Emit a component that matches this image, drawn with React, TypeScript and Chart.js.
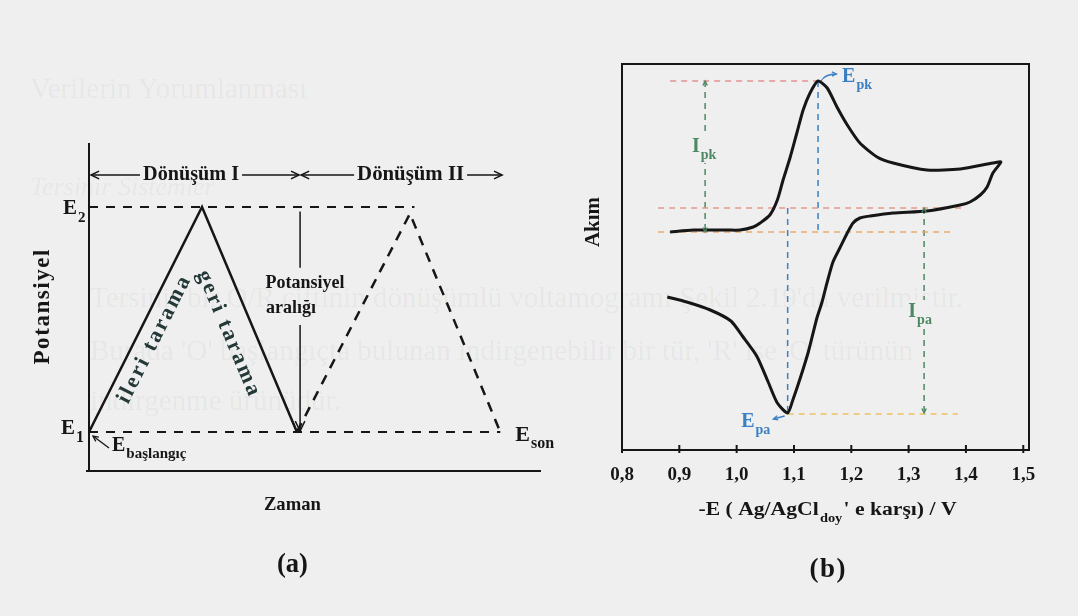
import React, { useEffect, useRef } from "react";
import { Chart, registerables } from "chart.js";

Chart.register(...registerables);

const SERIF = '"Liberation Serif", "Times New Roman", serif';
const INK = "#161616";
const PAPER = "#efefef";
const TEAL_INK = "#243838";
const BLUE = "#3b80c2";
const GREEN = "#4c8862";

// ---------- (a) potential–time waveform (E1 = 0, E2 = 1) ----------
const cycle1Time = [0, 2.5, 4.6];
const cycle1Potential = [0, 1, 0];
const cycle2Time = [4.6, 7.1, 9.1];
const cycle2Potential = [0, 0.97, 0];
const upperLimitTime = [0, 7.2];
const upperLimitPotential = [1, 1];
const lowerLimitTime = [0, 9.1];
const lowerLimitPotential = [0, 0];
const cycleBoundaryTime = [0, 4.67, 9.14];
const cycleLabels = ["Dönüşüm I", "Dönüşüm II"];

// ---------- (b) cyclic voltammogram: -E (V) vs current (arb. units) ----------
const cvPotential = [
  0.884, 0.924, 0.983, 1.006, 1.029, 1.041, 1.058, 1.071, 1.081, 1.093, 1.105, 1.116,
  1.128, 1.142, 1.158, 1.175, 1.193, 1.215, 1.245, 1.273, 1.332, 1.39, 1.447, 1.461,
  1.447, 1.437, 1.425, 1.407, 1.39, 1.332, 1.273, 1.233, 1.215, 1.203, 1.193, 1.18,
  1.168, 1.158, 1.149, 1.14, 1.125, 1.111, 1.098, 1.089, 1.071, 1.055, 1.035, 1.01,
  0.99, 0.954, 0.913, 0.879,
];
const cvCurrent = [
  0.0, 0.2, 0.2, 0.2, 0.5, 0.9, 1.7, 3.2, 5.2, 7.4, 9.9, 12.2,
  13.9, 15.1, 14.4, 12.5, 10.7, 8.9, 7.5, 6.9, 6.2, 6.3, 6.9, 7.0,
  5.9, 4.5, 3.7, 3.0, 2.7, 2.1, 1.9, 1.6, 1.4, 0.9, -0.1, -1.6,
  -3.0, -5.0, -7.0, -8.6, -12.0, -14.6, -16.8, -18.1, -17.1, -15.0, -12.4, -10.4,
  -8.9, -7.8, -7.0, -6.5,
];
const xTickValues = [0.8, 0.9, 1.0, 1.1, 1.2, 1.3, 1.4, 1.5];
const xTickLabels = ["0,8", "0,9", "1,0", "1,1", "1,2", "1,3", "1,4", "1,5"];

// peak positions and baselines used for the Ip / Ep construction lines
const cathodicPeakE = 1.142;
const cathodicPeakI = 15.1;
const cathodicBaseI = 0;
const anodicPeakE = 1.089;
const anodicPeakI = -18.1;
const anodicBaseI = 2.4;
const ipkMarkerE = 0.945;
const ipaMarkerE = 1.327;
const baselineStartE = 0.863;
const peakLevelStartE = 0.884;
const anodicBaseEndE = 1.395;
const cathodicBaseEndE = 1.378;
const anodicLevelEndE = 1.386;

const zip = (xs: number[], ys: number[]) => xs.map((x, i) => ({ x, y: ys[i] }));

function seg(ctx: CanvasRenderingContext2D, x1: number, y1: number, x2: number, y2: number) {
  ctx.beginPath();
  ctx.moveTo(x1, y1);
  ctx.lineTo(x2, y2);
  ctx.stroke();
}

function arrowHead(ctx: CanvasRenderingContext2D, x: number, y: number, angle: number, size: number) {
  ctx.beginPath();
  ctx.moveTo(x - size * Math.cos(angle - 0.45), y - size * Math.sin(angle - 0.45));
  ctx.lineTo(x, y);
  ctx.lineTo(x - size * Math.cos(angle + 0.45), y - size * Math.sin(angle + 0.45));
  ctx.stroke();
}

// text spread (or squeezed) to a given length, centred on (cx, cy), rotated by angle
function spacedText(
  ctx: CanvasRenderingContext2D,
  text: string,
  cx: number,
  cy: number,
  width: number,
  angle: number,
  font: string,
  color: string
) {
  ctx.save();
  ctx.translate(cx, cy);
  ctx.rotate(angle);
  ctx.font = font;
  ctx.fillStyle = color;
  ctx.textAlign = "left";
  ctx.textBaseline = "middle";
  const chars = Array.from(text);
  const widths = chars.map((c) => ctx.measureText(c).width);
  const natural = widths.reduce((s, w) => s + w, 0);
  let gap = chars.length > 1 ? (width - natural) / (chars.length - 1) : 0;
  if (gap < 0) {
    ctx.scale(width / natural, 1);
    gap = 0;
  }
  let x = gap === 0 ? -natural / 2 : -width / 2;
  chars.forEach((c, i) => {
    ctx.fillText(c, x, 0);
    x += widths[i] + gap;
  });
  ctx.restore();
}

function subText(
  ctx: CanvasRenderingContext2D,
  main: string,
  sub: string,
  x: number,
  y: number,
  size: number,
  subSize: number,
  color: string,
  align: "left" | "center" = "left"
) {
  ctx.save();
  ctx.textAlign = "left";
  ctx.textBaseline = "middle";
  ctx.fillStyle = color;
  const mainFont = `bold ${size}px ${SERIF}`;
  const subFont = `bold ${subSize}px ${SERIF}`;
  ctx.font = mainFont;
  const w1 = ctx.measureText(main).width;
  ctx.font = subFont;
  const w2 = ctx.measureText(sub).width;
  const x0 = align === "center" ? x - (w1 + w2 + 1) / 2 : x;
  ctx.font = mainFont;
  ctx.fillText(main, x0, y);
  ctx.font = subFont;
  ctx.fillText(sub, x0 + w1 + 1, y + size * 0.42);
  ctx.restore();
  return w1 + w2 + 1;
}

const waveformDecor = {
  id: "waveformDecor",
  afterDatasetsDraw(chart: any) {
    const { ctx, chartArea: a, scales } = chart;
    const X = (v: number) => scales.x.getPixelForValue(v);
    const Y = (v: number) => scales.y.getPixelForValue(v);
    ctx.save();
    ctx.strokeStyle = INK;
    ctx.fillStyle = INK;

    // axes
    ctx.lineWidth = 2;
    seg(ctx, a.left, a.top, a.left, a.bottom);
    seg(ctx, a.left - 3, a.bottom, a.right, a.bottom);

    // cycle spans along the top
    const rowY = Y(1.142);
    const [t0, t1, t2] = cycleBoundaryTime;
    const spans = [
      [X(t0) + 2, X(t1) - 1, 96, -4],
      [X(t1) + 1, X(t2), 107, 9],
    ];
    ctx.lineWidth = 1.5;
    spans.forEach(([s, e, w, shift], i) => {
      const cx = (s + e) / 2 + shift;
      spacedText(ctx, cycleLabels[i], cx, rowY, w, 0, `bold 21px ${SERIF}`, INK);
      seg(ctx, s, rowY, cx - w / 2 - 3, rowY);
      seg(ctx, cx + w / 2 + 3, rowY, e, rowY);
      arrowHead(ctx, s, rowY, Math.PI, 9);
      arrowHead(ctx, e, rowY, 0, 9);
    });

    // potential window arrow
    const vx = X(t1);
    seg(ctx, vx, Y(0.98), vx, Y(0.73));
    seg(ctx, vx, Y(0.476), vx, Y(0) - 1);
    arrowHead(ctx, vx, Y(0) - 1, Math.PI / 2, 11);
    spacedText(ctx, "Potansiyel", vx + 5, Y(0.662), 79, 0, `bold 18px ${SERIF}`, INK);
    spacedText(ctx, "aralığı", vx - 9, Y(0.551), 50, 0, `bold 18px ${SERIF}`, INK);

    // scan direction labels along the solid triangle
    const upAngle = Math.atan2(Y(1) - Y(0), X(2.5) - X(0));
    const downAngle = Math.atan2(Y(0) - Y(1), X(4.6) - X(2.5));
    spacedText(ctx, "ileri tarama", X(1.44), Y(0.409), 139, upAngle, `bold 22px ${SERIF}`, TEAL_INK);
    spacedText(ctx, "geri tarama", X(3.08), Y(0.44), 134, downAngle, `bold 22px ${SERIF}`, TEAL_INK);

    // potential labels
    subText(ctx, "E", "2", a.left - 26, Y(1) + 2, 21, 15, INK);
    subText(ctx, "E", "1", a.left - 28, Y(0) - 3, 21, 16, INK);
    ctx.lineWidth = 1.3;
    seg(ctx, X(0) + 20, Y(0) + 16, X(0) + 4, Y(0) + 4);
    arrowHead(ctx, X(0) + 4, Y(0) + 4, Math.atan2(-12, -16), 6);
    subText(ctx, "E", "başlangıç", X(0) + 23, Y(0) + 14, 20, 15, INK);
    subText(ctx, "E", "son", X(9.1) + 15, Y(0) + 3, 22, 16, INK);

    // axis titles and panel tag
    spacedText(ctx, "Potansiyel", a.left - 46, (a.top + a.bottom) / 2, 115, -Math.PI / 2, `bold 23px ${SERIF}`, INK);
    spacedText(ctx, "Zaman", X(4.5), a.bottom + 34, 57, 0, `bold 19px ${SERIF}`, INK);
    spacedText(ctx, "(a)", X(4.5), a.bottom + 94, 31, 0, `bold 27px ${SERIF}`, INK);
    ctx.restore();
  },
};

function labelWithGap(
  ctx: CanvasRenderingContext2D,
  main: string,
  sub: string,
  cx: number,
  cy: number,
  color: string
) {
  ctx.save();
  ctx.font = `bold 20px ${SERIF}`;
  const w1 = ctx.measureText(main).width;
  ctx.font = `bold 14px ${SERIF}`;
  const w2 = ctx.measureText(sub).width;
  ctx.fillStyle = PAPER;
  ctx.fillRect(cx - (w1 + w2) / 2 - 2, cy - 12, w1 + w2 + 5, 28);
  ctx.restore();
  subText(ctx, main, sub, cx, cy, 20, 14, color, "center");
}

const voltammogramDecor = {
  id: "voltammogramDecor",
  afterDatasetsDraw(chart: any) {
    const { ctx, chartArea: a, scales } = chart;
    const X = (v: number) => scales.x.getPixelForValue(v);
    const Y = (v: number) => scales.y.getPixelForValue(v);
    ctx.save();

    // frame and ticks
    ctx.strokeStyle = INK;
    ctx.lineWidth = 2;
    ctx.strokeRect(a.left, a.top, a.right - a.left, a.bottom - a.top);
    xTickValues.forEach((v) => seg(ctx, X(v), a.bottom - 5, X(v), a.bottom + 3));

    // arrowheads of the Ip markers
    ctx.strokeStyle = GREEN;
    ctx.lineWidth = 1.4;
    arrowHead(ctx, X(ipkMarkerE), Y(cathodicPeakI), -Math.PI / 2, 5);
    arrowHead(ctx, X(ipkMarkerE), Y(cathodicBaseI), Math.PI / 2, 5);
    arrowHead(ctx, X(ipaMarkerE), Y(anodicBaseI), -Math.PI / 2, 5);
    arrowHead(ctx, X(ipaMarkerE), Y(anodicPeakI), Math.PI / 2, 5);
    labelWithGap(ctx, "I", "pk", X(ipkMarkerE) - 1, Y(8.5), GREEN);
    labelWithGap(ctx, "I", "pa", X(ipaMarkerE) - 4, Y(-8.0), GREEN);

    // peak potential labels
    ctx.strokeStyle = BLUE;
    ctx.lineWidth = 1.3;
    const px = X(cathodicPeakE) + 3;
    const py = Y(cathodicPeakI);
    ctx.beginPath();
    ctx.moveTo(px, py);
    ctx.quadraticCurveTo(px + 4, Y(15.8), X(1.174), Y(15.8));
    ctx.stroke();
    arrowHead(ctx, X(1.174), Y(15.8), 0, 5);
    subText(ctx, "E", "pk", X(1.184), Y(15.5), 20, 14, BLUE);

    const ax = X(anodicPeakE) - 3;
    const ay = Y(anodicPeakI - 0.3);
    seg(ctx, ax, ay, X(1.064), Y(-18.7));
    arrowHead(ctx, X(1.064), Y(-18.7), Math.atan2(Y(-18.7) - ay, X(1.064) - ax), 5);
    subText(ctx, "E", "pa", X(1.008), Y(-19.0), 20, 14, BLUE);

    // x-axis title with subscript
    const parts = ["-E ( Ag/AgCl", "doy", "' e karşı) / V"];
    ctx.fillStyle = INK;
    ctx.textAlign = "left";
    ctx.textBaseline = "middle";
    ctx.font = `bold 18px ${SERIF}`;
    const w1 = ctx.measureText(parts[0]).width;
    const w3 = ctx.measureText(parts[2]).width;
    ctx.font = `bold 12px ${SERIF}`;
    const w2 = ctx.measureText(parts[1]).width;
    const natural = w1 + w2 + w3 + 2;
    const target = 258;
    const tx = (a.left + a.right) / 2 + 2;
    const ty = a.bottom + 60;
    ctx.save();
    ctx.translate(tx - target / 2, ty);
    ctx.scale(target / natural, 1);
    ctx.font = `bold 18px ${SERIF}`;
    ctx.fillText(parts[0], 0, 0);
    ctx.font = `bold 12px ${SERIF}`;
    ctx.fillText(parts[1], w1 + 1, 9);
    ctx.font = `bold 18px ${SERIF}`;
    ctx.fillText(parts[2], w1 + w2 + 2, 0);
    ctx.restore();

    spacedText(ctx, "Akım", a.left - 29, a.top + 158, 50, -Math.PI / 2, `bold 22px ${SERIF}`, INK);
    spacedText(ctx, "(b)", (a.left + a.right) / 2 + 2, a.bottom + 120, 36, 0, `bold 27px ${SERIF}`, INK);
    ctx.restore();
  },
};

const guide = (pts: { x: number; y: number }[], color: string, dash: number[] = [6, 5]) => ({
  data: pts,
  showLine: true,
  borderColor: color,
  borderWidth: 1.5,
  borderDash: dash,
  pointRadius: 0,
  tension: 0,
  order: 2,
});

export default function App() {
  const waveRef = useRef<HTMLCanvasElement>(null);
  const cvRef = useRef<HTMLCanvasElement>(null);

  useEffect(() => {
    const waveChart = new Chart(waveRef.current as HTMLCanvasElement, {
      type: "scatter",
      data: {
        datasets: [
          { data: zip(cycle1Time, cycle1Potential), showLine: true, borderColor: INK, borderWidth: 2.5, pointRadius: 0, tension: 0 },
          { data: zip(cycle2Time, cycle2Potential), showLine: true, borderColor: INK, borderWidth: 2.5, borderDash: [10, 8], pointRadius: 0, tension: 0 },
          { data: zip(upperLimitTime, upperLimitPotential), showLine: true, borderColor: INK, borderWidth: 2, borderDash: [9, 8], pointRadius: 0 },
          { data: zip(lowerLimitTime, lowerLimitPotential), showLine: true, borderColor: INK, borderWidth: 2, borderDash: [9, 8], pointRadius: 0 },
        ],
      } as any,
      options: {
        animation: false,
        responsive: false,
        events: [],
        layout: { padding: { left: 89, top: 143, right: 19, bottom: 145 } },
        scales: {
          x: { type: "linear", display: false, min: 0, max: 10 },
          y: { type: "linear", display: false, min: -0.173, max: 1.284 },
        },
        plugins: { legend: { display: false }, tooltip: { enabled: false } },
      },
      plugins: [waveformDecor],
    });

    const cvChart = new Chart(cvRef.current as HTMLCanvasElement, {
      type: "scatter",
      data: {
        datasets: [
          {
            data: zip(cvPotential, cvCurrent),
            showLine: true,
            borderColor: INK,
            borderWidth: 3,
            pointRadius: 0,
            tension: 0.22,
            order: 0,
          },
          guide([{ x: peakLevelStartE, y: cathodicPeakI }, { x: cathodicPeakE, y: cathodicPeakI }], "rgba(226,140,140,0.95)"),
          guide([{ x: baselineStartE, y: anodicBaseI }, { x: anodicBaseEndE, y: anodicBaseI }], "rgba(224,150,130,0.95)"),
          guide([{ x: baselineStartE, y: cathodicBaseI }, { x: cathodicBaseEndE, y: cathodicBaseI }], "rgba(232,168,100,0.95)"),
          guide([{ x: anodicPeakE, y: anodicPeakI - 0.1 }, { x: anodicLevelEndE, y: anodicPeakI - 0.1 }], "rgba(236,190,90,0.95)"),
          guide([{ x: cathodicPeakE, y: cathodicPeakI }, { x: cathodicPeakE, y: cathodicBaseI - 0.1 }], BLUE),
          guide([{ x: anodicPeakE, y: anodicBaseI }, { x: anodicPeakE, y: anodicPeakI }], BLUE),
          guide([{ x: ipkMarkerE, y: cathodicPeakI }, { x: ipkMarkerE, y: cathodicBaseI }], GREEN),
          guide([{ x: ipaMarkerE, y: anodicBaseI }, { x: ipaMarkerE, y: anodicPeakI - 0.1 }], GREEN),
        ],
      } as any,
      options: {
        animation: false,
        responsive: false,
        events: [],
        layout: { padding: { left: 62, top: 64, right: 49, bottom: 126 } },
        scales: {
          x: {
            type: "linear",
            min: 0.8,
            max: 1.51,
            afterBuildTicks: (scale: any) => {
              scale.ticks = xTickValues.map((value) => ({ value }));
            },
            afterFit: (scale: any) => {
              scale.height = 40;
            },
            ticks: {
              autoSkip: false,
              maxRotation: 0,
              minRotation: 0,
              padding: 14,
              color: INK,
              font: { family: "Liberation Serif", size: 19, weight: "bold" },
              callback: (value: any) => {
                const i = xTickValues.findIndex((v) => Math.abs(v - Number(value)) < 1e-6);
                return i >= 0 ? xTickLabels[i] : "";
              },
            },
            grid: { display: false, drawTicks: false },
            border: { display: false },
          },
          y: { type: "linear", display: false, min: -21.8, max: 16.8 },
        },
        plugins: { legend: { display: false }, tooltip: { enabled: false } },
      } as any,
      plugins: [voltammogramDecor],
    });

    return () => {
      waveChart.destroy();
      cvChart.destroy();
    };
  }, []);

  const ghost: React.CSSProperties = {
    position: "absolute",
    left: 90,
    whiteSpace: "nowrap",
    fontFamily: SERIF,
    fontSize: 29,
    color: "rgba(0,0,0,0.05)",
    lineHeight: "34px",
  };

  return (
    <div
      style={{
        position: "fixed",
        left: 0,
        top: 0,
        width: 1078,
        height: 616,
        background: PAPER,
        overflow: "hidden",
      }}
    >
      <div style={{ ...ghost, left: 30, top: 71 }}>Verilerin Yorumlanması</div>
      <div style={{ ...ghost, left: 30, top: 170, fontStyle: "italic", fontSize: 26 }}>Tersinir Sistemler</div>
      <div style={{ ...ghost, top: 280 }}>Tersinir bir O/R çiftinin dönüşümlü voltamogramı Şekil 2.19'da verilmiştir.</div>
      <div style={{ ...ghost, top: 333 }}>Burada 'O' başlangıçta bulunan indirgenebilir bir tür, 'R' ise 'O' türünün</div>
      <div style={{ ...ghost, top: 383 }}>indirgenme ürünüdür.</div>
      <canvas
        ref={waveRef}
        width={560}
        height={616}
        style={{ position: "absolute", left: 0, top: 0, width: 560, height: 616 }}
      />
      <canvas
        ref={cvRef}
        width={518}
        height={616}
        style={{ position: "absolute", left: 560, top: 0, width: 518, height: 616 }}
      />
    </div>
  );
}
